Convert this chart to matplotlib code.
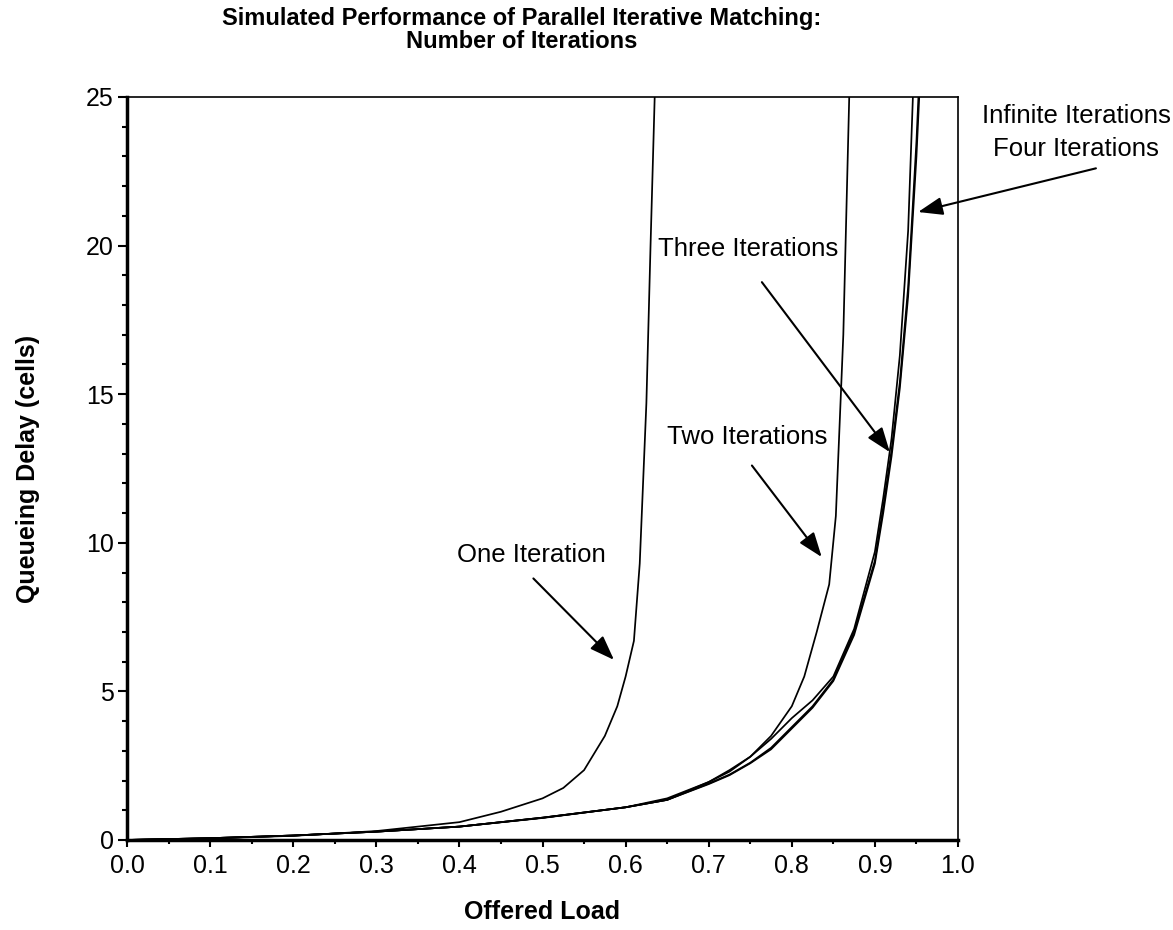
import matplotlib
matplotlib.use('Agg')
import matplotlib.pyplot as plt
from matplotlib.ticker import MultipleLocator

plt.rcParams['font.family'] = ['Liberation Sans', 'DejaVu Sans']

# simulated queueing delay (cells) vs offered load
load_one = [0.0, 0.1, 0.2, 0.3, 0.4, 0.45, 0.5, 0.525, 0.55, 0.575, 0.59, 0.6, 0.61, 0.617, 0.625, 0.63, 0.636]
delay_one = [0.0, 0.05, 0.14, 0.3, 0.6, 0.95, 1.4, 1.75, 2.35, 3.5, 4.5, 5.5, 6.7, 9.3, 14.7, 20.0, 26.0]

load_two = [0.0, 0.1, 0.2, 0.3, 0.4, 0.5, 0.6, 0.65, 0.7, 0.725, 0.75, 0.775, 0.8, 0.815, 0.83, 0.845, 0.853, 0.862, 0.87]
delay_two = [0.0, 0.06, 0.15, 0.28, 0.45, 0.75, 1.1, 1.4, 1.95, 2.35, 2.8, 3.5, 4.5, 5.5, 7.0, 8.6, 10.9, 17.0, 26.0]

load_three = [0.0, 0.1, 0.2, 0.3, 0.4, 0.5, 0.6, 0.65, 0.7, 0.725, 0.75, 0.775, 0.8, 0.825, 0.85, 0.875, 0.9, 0.91, 0.92, 0.93, 0.94, 0.947]
delay_three = [0.0, 0.06, 0.15, 0.28, 0.45, 0.75, 1.1, 1.35, 1.95, 2.3, 2.8, 3.4, 4.1, 4.7, 5.5, 7.1, 9.7, 11.5, 13.5, 16.3, 20.5, 26.0]

load_four = [0.0, 0.1, 0.2, 0.3, 0.4, 0.5, 0.6, 0.65, 0.7, 0.725, 0.75, 0.775, 0.8, 0.825, 0.85, 0.875, 0.9, 0.91, 0.92, 0.93, 0.94, 0.95, 0.954]
delay_four = [0.0, 0.06, 0.15, 0.28, 0.45, 0.75, 1.1, 1.35, 1.9, 2.2, 2.6, 3.1, 3.8, 4.5, 5.4, 7.0, 9.4, 11.2, 13.1, 15.4, 18.6, 23.5, 26.0]

load_inf = [0.0, 0.1, 0.2, 0.3, 0.4, 0.5, 0.6, 0.65, 0.7, 0.725, 0.75, 0.775, 0.8, 0.825, 0.85, 0.875, 0.9, 0.91, 0.92, 0.93, 0.94, 0.95, 0.955]
delay_inf = [0.0, 0.06, 0.15, 0.28, 0.45, 0.74, 1.1, 1.35, 1.88, 2.18, 2.58, 3.05, 3.75, 4.45, 5.35, 6.9, 9.3, 11.0, 12.9, 15.2, 18.3, 23.0, 26.0]

fig = plt.figure(figsize=(11.73, 9.30), dpi=100)
ax = fig.add_axes([0.1083, 0.0968, 0.7084, 0.7989])

for xs, ys in [(load_one, delay_one), (load_two, delay_two), (load_three, delay_three),
               (load_four, delay_four), (load_inf, delay_inf)]:
    ax.plot(xs, ys, color='black', linewidth=1.25)

ax.set_xlim(0, 1.0)
ax.set_ylim(0, 25)
ax.xaxis.set_major_locator(MultipleLocator(0.1))
ax.xaxis.set_minor_locator(MultipleLocator(0.05))
ax.yaxis.set_major_locator(MultipleLocator(5))
ax.yaxis.set_minor_locator(MultipleLocator(1))
ax.xaxis.set_major_formatter(plt.FormatStrFormatter('%.1f'))
ax.tick_params(which='major', direction='out', length=6.5, width=1.5, labelsize=18, pad=3)
ax.tick_params(which='minor', direction='out', length=3.5, width=1.5)
ax.tick_params(axis='x', which='major', length=5, pad=5)
ax.tick_params(axis='x', which='minor', length=3)

ax.spines['left'].set_linewidth(2.5)
ax.spines['bottom'].set_linewidth(2.5)
ax.spines['top'].set_linewidth(1.2)
ax.spines['right'].set_linewidth(1.2)

ax.set_xlabel('Offered Load', fontsize=18, fontweight='bold', labelpad=16)
ax.set_ylabel('Queueing Delay (cells)', fontsize=18, fontweight='bold', labelpad=33)

fig.text(0.445, 0.992, 'Simulated Performance of Parallel Iterative Matching:\nNumber of Iterations',
         ha='center', va='top', fontsize=17, fontweight='bold', linespacing=1.0)

# annotations with arrows
arrow = dict(arrowstyle='-|>,head_length=1.5,head_width=0.55', color='black', lw=1.5,
             shrinkA=0, shrinkB=0)
ax.annotate('', xy=(0.586, 6.06), xytext=(0.489, 8.8), arrowprops=arrow)
ax.text(0.486, 9.6, 'One Iteration', fontsize=18.5, ha='center', va='center')

ax.annotate('', xy=(0.836, 9.52), xytext=(0.752, 12.6), arrowprops=arrow)
ax.text(0.746, 13.56, 'Two Iterations', fontsize=18.5, ha='center', va='center')

ax.annotate('', xy=(0.918, 13.05), xytext=(0.764, 18.77), arrowprops=arrow)
ax.text(0.747, 19.9, 'Three Iterations', fontsize=18.5, ha='center', va='center')

ax.annotate('', xy=(0.952, 21.13), xytext=(1.166, 22.6), arrowprops=arrow,
            annotation_clip=False)
ax.text(1.142, 24.35, 'Infinite Iterations', fontsize=18.5, ha='center', va='center', clip_on=False)
ax.text(1.142, 23.25, 'Four Iterations', fontsize=18.5, ha='center', va='center', clip_on=False)

fig.savefig('out.png', dpi=100)
